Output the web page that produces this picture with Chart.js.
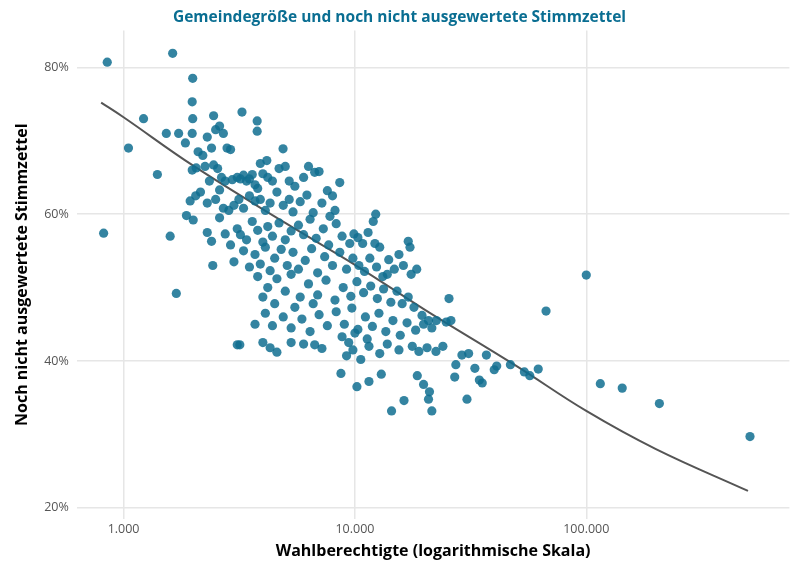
<!DOCTYPE html>
<html><head><meta charset="utf-8">
<script src="https://cdn.jsdelivr.net/npm/chart.js@4/dist/chart.umd.min.js"></script>
<style>html,body{margin:0;padding:0;background:#fff}#w{width:794px;height:569px}</style>
</head><body><div id="w"><canvas id="c"></canvas></div>
<script>
const eligible = [850,1630,1990,820,1050,1220,1400,1530,1590,1690,1870,1980,1990,1980,1980,1730,1850,2060,1940,2430,2450,3250,3780,3780,4890,3180,4160,
2100,2200,2300,2400,2500,2600,2700,2800,2900,2250,2350,2450,2550,2650,2750,2950,3100,3200,3300,3400,3500,3600,3700,3800,3900,4000,4200,4400,4700,5000,5200,5500,6000,6300,6700,7000,7600,8000,8600,
2050,2150,2300,2500,2600,2700,2850,3000,3150,3300,3500,3700,3900,4100,4300,4600,4900,5200,5400,5800,6200,6600,7200,7800,8200,12300,12000,
2000,2300,2400,2600,2750,2900,3100,3200,3400,3600,3800,4000,4200,4400,4700,5000,5300,5700,6000,6400,6800,7300,7700,8300,8800,9500,9900,10300,10800,11400,12200,12800,17000,17300,
3000,3300,3500,3700,3900,4100,4300,4500,4800,5100,5400,5700,6100,6500,6900,7400,8000,8600,9200,9800,10400,11000,11600,12400,13200,14000,14800,15500,16200,17500,18500,13800,
3800,4200,4600,5000,5300,5800,6300,6900,7500,8200,8900,9600,10200,10900,11700,12500,13300,14300,15200,16000,17000,18000,19500,20800,4000,4500,5500,6600,25500,
3700,4100,4400,4900,5300,5900,6400,7000,7600,8300,9000,9700,10300,11100,11900,12700,13600,14600,15700,16800,18300,19800,21500,22500,24800,26000,8800,9400,10000,11300,
4000,4300,4600,5300,6000,6700,7200,9200,9800,10600,11500,12800,13800,15500,17700,18900,20500,22400,24000,27300,29000,31000,33000,37000,41000,47000,54000,62000,3100,
8700,10200,11500,13000,14400,16300,18600,19800,20800,21500,21000,27000,30500,35500,34500,40000,57000,100000,67000,115000,143000,207000,510000];
const share = [80.7,81.9,78.5,57.4,69,73,65.4,71,57,49.2,59.8,75.3,73,71,66,71,69.7,66.3,61.8,53,73.4,73.9,72.7,71.3,68.9,42.2,67.3,
68.5,68,70.5,69,71.5,72,71,69,68.8,66.5,64.5,66.7,66.2,65,64.5,64.7,65,64.8,65.3,64.5,64.8,65.4,64,63.5,66.9,65.5,65,64.5,66.2,66.5,64.5,63.8,65,66.5,65.7,65.8,63.2,62.5,64.3,
62.5,63,61.5,62,63.3,60.8,60.5,61.2,62,60.8,62.5,61.8,62,60.5,61.5,63,61.2,62,60.3,61.7,62.6,60.2,61.5,59.7,60.5,60,59,
59.2,57.5,56.3,59.5,57.3,55.8,58,57.2,56.5,59,57.8,56.2,58.3,57,58.8,56.5,57.7,58.5,57.2,59.3,56.7,58,55.8,58.7,57,56,57.3,56.8,56,57.5,56,55.5,56.3,55.5,
53.5,55,52.8,54.5,53.2,55.5,52.3,54,55.2,53,54.8,52.5,53.7,55.3,52,54.2,53,54.8,52.5,54,53,52.2,54,52.8,51.5,53.8,52.5,54.5,53,51.8,52.5,51.8,
51.5,50,51.2,49.5,51.8,48.7,50.5,49,51,48.3,50,48.8,50.8,49.3,50.2,48.5,49.8,48,49.5,47.8,48.7,47.3,46.2,45.5,48.7,47.8,47.3,47.8,48.5,
45,46.5,44.8,46,44.5,45.7,44,46.3,44.8,46.7,45,47.2,44.3,46,44.7,46.5,44,45.5,43.5,45.2,44.2,45,44.5,45.5,45.3,45.5,43.3,42.5,43.8,43,
42.5,41.8,41.2,42.5,42.3,42.2,41.7,40.7,41.5,40.2,42,41,42.3,41.5,42,41.3,41.8,41.3,42,39.5,40.8,41,39,40.8,39.3,39.5,38.5,38.9,42.2,
38.3,36.5,37.2,38.2,33.2,34.6,38,36.8,34.8,33.2,35.8,37.8,34.8,37,37.4,38.8,38,51.7,46.8,36.9,36.3,34.2,29.7];
const trendX = [800,1000,2000,5000,10000,20000,50000,100000,200000,500000];
const trendY = [75.2,73.2,66.6,58.8,53.1,47.0,39.3,33.2,28.0,22.3];
const xTicks = [1000,10000,100000];
const yTicks = [20,40,60,80];

const pts = eligible.map((x,i)=>({x, y: share[i]}));
const trend = trendX.map((x,i)=>({x, y: trendY[i]}));
new Chart(document.getElementById('c'), {
  type: 'scatter',
  data: { datasets: [
    { data: pts, backgroundColor: 'rgba(16,110,145,0.85)', borderColor: 'rgba(16,110,145,0.9)', pointRadius: 4.6, borderWidth: 0 },
    { type: 'line', data: trend, borderColor: '#555', borderWidth: 2, pointRadius: 0, tension: 0.4, fill: false }
  ]},
  options: {
    responsive: true, maintainAspectRatio: false, animation: false,
    layout: { padding: { top: 4, right: 4, left: 9, bottom: 4 } },
    plugins: { legend: { display: false }, tooltip: { enabled: false },
      title: { display: true, text: 'Gemeindegröße und noch nicht ausgewertete Stimmzettel', color: '#0a6e92',
        font: { family: 'Open Sans', size: 15.5, weight: 'bold' }, padding: { top: 4, bottom: 4 } } },
    scales: {
      x: { type: 'logarithmic', min: 628, max: 755000,
        afterBuildTicks: a => { a.ticks = xTicks.map(v=>({value:v})); },
        ticks: { color: '#555', font: { family: 'Open Sans', size: 12.5 }, callback: v => v.toLocaleString('de-DE') },
        grid: { color: '#e6e6e6', lineWidth: 1.5, drawTicks: false }, border: { display: false },
        title: { display: true, text: 'Wahlberechtigte (logarithmische Skala)', color: '#000', font: { family: 'Open Sans', size: 16, weight: 'bold' }, padding: { top: 2 } } },
      y: { min: 18.5, max: 85,
        afterBuildTicks: a => { a.ticks = yTicks.map(v=>({value:v})); },
        ticks: { color: '#555', font: { family: 'Open Sans', size: 12.5 }, callback: v => v + '%', padding: 8 },
        grid: { color: '#e6e6e6', lineWidth: 1.5, drawTicks: false }, border: { display: false },
        title: { display: true, text: 'Noch nicht ausgewertete Stimmzettel', color: '#000', font: { family: 'Open Sans', size: 16, weight: 'bold' } } }
    }
  }
});
</script></body></html>
